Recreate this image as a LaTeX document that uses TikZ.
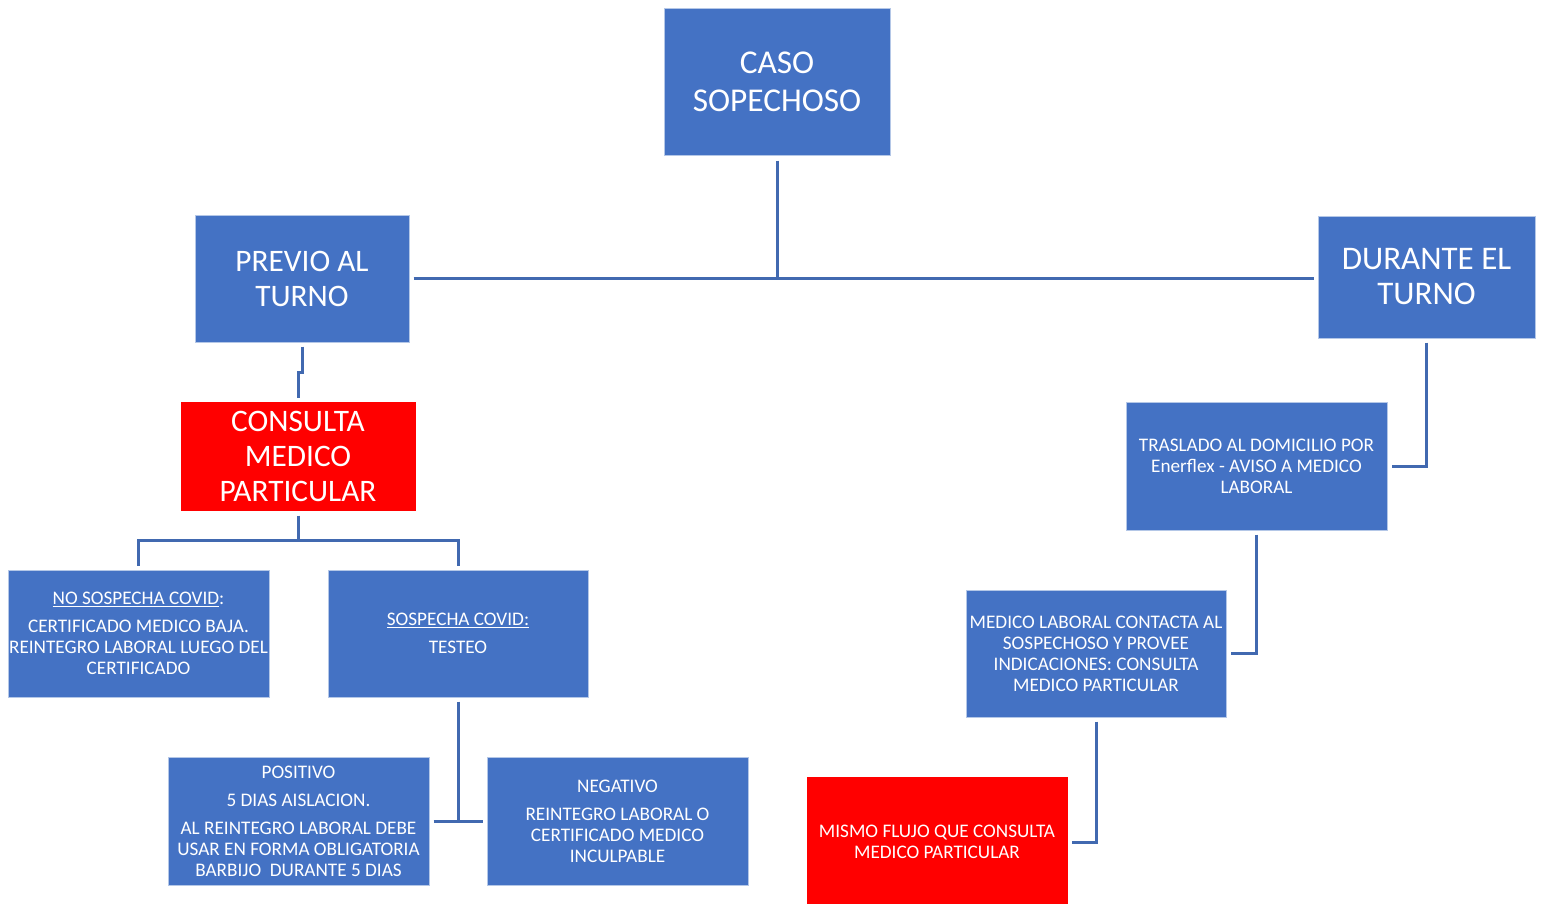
\documentclass[tikz,border=0pt]{standalone}
\usepackage{fontspec}
\setmainfont{Carlito}
\definecolor{boxblue}{HTML}{4472C4}
\definecolor{boxred}{HTML}{FF0000}
\definecolor{edgec}{HTML}{B4C7E7}
\definecolor{linec}{HTML}{4169B0}
\tikzset{
  box/.style={draw=edgec, line width=1pt, fill=boxblue, text=white, inner sep=0pt, align=center},
  redbox/.style={box, fill=boxred, draw=boxred},
  big/.style={font=\fontsize{33.3}{38}\selectfont},
  mid/.style={font=\fontsize{31.3}{35}\selectfont},
  small/.style={font=\fontsize{19.2}{21}\selectfont},
  conn/.style={draw=linec, line width=3pt}
}
\begin{document}
\begin{tikzpicture}[x=1pt, y=-1pt]
\useasboundingbox (0,0) rectangle (1541,903);
\fill[white] (0,0) rectangle (1541,903);

\node[box, big, minimum width=226pt, minimum height=147pt] (caso) at (777,81.5) {CASO\\SOPECHOSO};
\node[box, mid, minimum width=214pt, minimum height=127pt] (previo) at (302,278.5) {PREVIO AL\\TURNO};
\node[box, font=\fontsize{33}{35}\selectfont, minimum width=217pt, minimum height=122pt] (durante) at (1426.5,277) {DURANTE EL\\TURNO};
\node[redbox, mid, minimum width=234pt, minimum height=108pt] (consulta) at (298,456) {CONSULTA\\MEDICO\\PARTICULAR};
\node[box, small, minimum width=261pt, minimum height=127pt] (nosos) at (138.5,633.5) {\underline{NO SOSPECHA COVID}:\\[7pt]CERTIFICADO MEDICO BAJA.\\REINTEGRO LABORAL LUEGO DEL\\CERTIFICADO};
\node[box, small, minimum width=260pt, minimum height=127pt] (sos) at (458,633.5) {\underline{SOSPECHA COVID:}\\[7pt]TESTEO};
\node[box, small, minimum width=261pt, minimum height=128pt] (pos) at (298.5,821) {POSITIVO\\[7pt]5 DIAS AISLACION.\\[7pt]AL REINTEGRO LABORAL DEBE\\USAR EN FORMA OBLIGATORIA\\BARBIJO\ \ DURANTE 5 DIAS};
\node[box, small, minimum width=261pt, minimum height=128pt] (neg) at (617.5,821) {NEGATIVO\\[7pt]REINTEGRO LABORAL O\\CERTIFICADO MEDICO\\INCULPABLE};
\node[box, small, minimum width=261pt, minimum height=128pt] (tras) at (1256.5,466) {TRASLADO AL DOMICILIO POR\\Enerflex - AVISO A MEDICO\\LABORAL};
\node[box, small, minimum width=260pt, minimum height=127pt] (med) at (1096,653.5) {MEDICO LABORAL CONTACTA AL\\SOSPECHOSO Y PROVEE\\INDICACIONES: CONSULTA\\MEDICO PARTICULAR};
\node[redbox, small, minimum width=260pt, minimum height=130pt] (mismo) at (937,842) {MISMO FLUJO QUE CONSULTA\\MEDICO PARTICULAR};

\coordinate (j1) at (777,278);
\coordinate (b1) at (298,540);

% top
\draw[conn] ([yshift=-5pt]caso.south) -- (j1);
\draw[conn] ([xshift=4pt]previo.east |- j1) -- ([xshift=-4pt]durante.west |- j1);
% previo -> consulta
\draw[conn] ([yshift=-4pt]previo.south) -- ++(0,26) -| ([yshift=4pt]consulta.north);
% consulta -> branches
\draw[conn] ([yshift=-5pt]consulta.south) -- (b1);
\draw[conn] ([yshift=4pt]nosos.north) |- (b1) -| ([yshift=4pt]sos.north);
% sospecha -> pos/neg
\draw[conn] ([yshift=-4pt]sos.south) -- (sos.south |- pos.east);
\draw[conn] ([xshift=4pt]pos.east) -- ([xshift=-4pt]neg.west);
% right chain
\draw[conn] ([yshift=-4pt]durante.south) |- ([xshift=4pt]tras.east);
\draw[conn] ([yshift=-4pt]tras.south) |- ([xshift=4pt]med.east);
\draw[conn] ([yshift=-4pt]med.south) |- ([xshift=4pt]mismo.east);
\end{tikzpicture}
\end{document}
